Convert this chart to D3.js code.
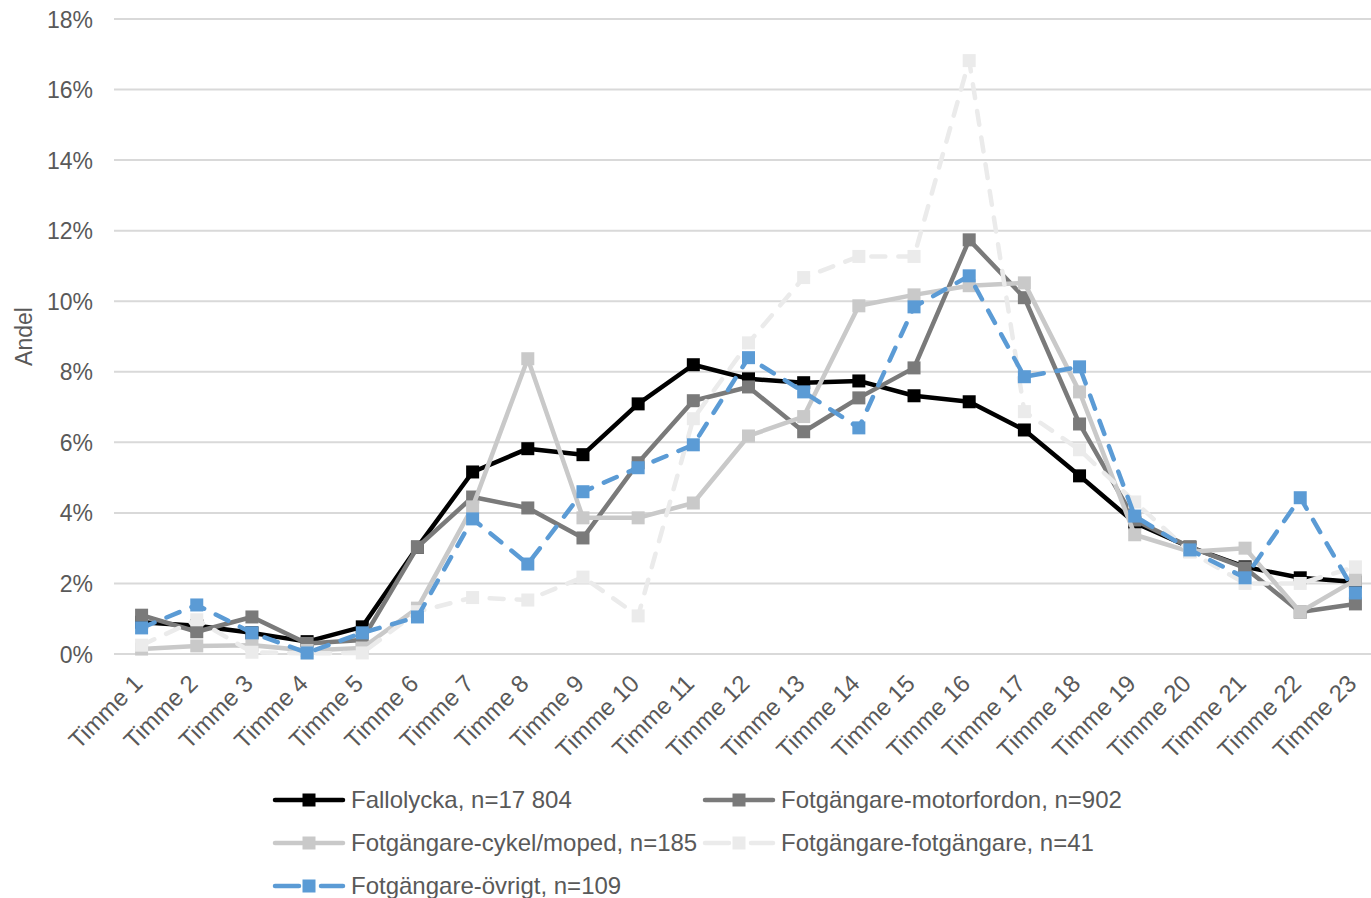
<!DOCTYPE html>
<html>
<head>
<meta charset="utf-8">
<script src="https://cdn.jsdelivr.net/npm/d3@7"></script>
<style>
  body { margin: 0; background: #fff; }
  text { font-family: "Liberation Sans", Arial, sans-serif; fill: #595959; }
</style>
</head>
<body>
<div id="svgRoot"></div>
<script>
const hours = ["Timme 1","Timme 2","Timme 3","Timme 4","Timme 5","Timme 6","Timme 7","Timme 8","Timme 9","Timme 10","Timme 11","Timme 12","Timme 13","Timme 14","Timme 15","Timme 16","Timme 17","Timme 18","Timme 19","Timme 20","Timme 21","Timme 22","Timme 23"];
const yTicks = [0, 2, 4, 6, 8, 10, 12, 14, 16, 18];

const fallolycka   = [0.9, 0.8, 0.6, 0.35, 0.77, 3.03, 5.16, 5.82, 5.65, 7.09, 8.2, 7.8, 7.69, 7.74, 7.32, 7.15, 6.35, 5.05, 3.72, 3.03, 2.47, 2.16, 2.04];
const motorfordon  = [1.1, 0.63, 1.05, 0.3, 0.4, 3.03, 4.45, 4.14, 3.29, 5.42, 7.18, 7.57, 6.3, 7.26, 8.11, 11.74, 10.1, 6.52, 3.8, 3.03, 2.44, 1.19, 1.42];
const cykelMoped   = [0.14, 0.23, 0.25, 0.1, 0.17, 1.3, 4.17, 8.37, 3.86, 3.86, 4.28, 6.18, 6.73, 9.87, 10.18, 10.44, 10.52, 7.43, 3.38, 2.9, 3.0, 1.19, 2.1];
const fotgangare   = [0.25, 0.97, 0.05, 0.02, 0.03, 1.2, 1.6, 1.53, 2.18, 1.08, 6.67, 8.82, 10.67, 11.27, 11.27, 16.82, 6.87, 5.79, 4.31, 2.9, 2.0, 2.0, 2.47];
const ovrigt       = [0.74, 1.39, 0.6, 0.03, 0.6, 1.05, 3.83, 2.55, 4.6, 5.28, 5.93, 8.4, 7.43, 6.41, 9.84, 10.72, 7.86, 8.14, 3.91, 2.95, 2.16, 4.43, 1.73];

const seriesNames = ["Fallolycka, n=17 804", "Fotgängare-motorfordon, n=902", "Fotgängare-cykel/moped, n=185", "Fotgängare-fotgängare, n=41", "Fotgängare-övrigt, n=109"];

const series = [
  { name: seriesNames[0], values: fallolycka,  color: "#000000", dash: null },
  { name: seriesNames[1], values: motorfordon, color: "#7a7a7a", dash: null },
  { name: seriesNames[2], values: cykelMoped,  color: "#c9c9c9", dash: null },
  { name: seriesNames[3], values: fotgangare,  color: "#ebebeb", dash: "14,13" },
  { name: seriesNames[4], values: ovrigt,      color: "#5b9bd5", dash: "14,13" }
];

const W = 1371, H = 898;
const plotLeft = 114, plotRight = 1383, plotTop = 19, plotBottom = 654;

const svg = d3.select("#svgRoot").append("svg")
  .attr("width", W).attr("height", H);

const x = d3.scalePoint().domain(hours).range([plotLeft, plotRight]).padding(0.5);
const y = d3.scaleLinear().domain([0, 18]).range([plotBottom, plotTop]);

// gridlines
svg.append("g")
  .selectAll("line")
  .data(yTicks)
  .enter().append("line")
  .attr("x1", plotLeft).attr("x2", plotRight)
  .attr("y1", d => y(d)).attr("y2", d => y(d))
  .attr("stroke", "#d9d9d9")
  .attr("stroke-width", 2);

// y axis labels
const yAxis = svg.append("g")
  .attr("transform", "translate(" + (plotLeft - 21) + ",0)")
  .call(d3.axisLeft(y).tickValues(yTicks).tickSize(0).tickPadding(0).tickFormat(d => d + "%"));
yAxis.select(".domain").remove();
yAxis.selectAll("text").style("font-size", "23px").attr("fill", "#595959").attr("dy", "0.35em");

// x axis labels
const xAxis = svg.append("g")
  .attr("transform", "translate(0," + plotBottom + ")")
  .call(d3.axisBottom(x).tickSize(0).tickPadding(0));
xAxis.select(".domain").remove();
xAxis.selectAll("text")
  .style("font-size", "24px")
  .attr("fill", "#595959")
  .attr("text-anchor", "end")
  .attr("dy", "0.35em")
  .attr("transform", "translate(-4,25) rotate(-45)");

svg.append("text")
  .text("Andel")
  .attr("text-anchor", "middle")
  .attr("transform", "translate(32," + (y(9)) + ") rotate(-90)")
  .style("font-size", "23px");

const line = d3.line()
  .x((d, i) => x(hours[i]))
  .y(d => y(d));

const ms = 13;

series.forEach(s => {
  const g = svg.append("g");
  g.append("path")
    .attr("d", line(s.values))
    .attr("fill", "none")
    .attr("stroke", s.color)
    .attr("stroke-width", 4.5)
    .attr("stroke-linejoin", "round")
    .attr("stroke-linecap", "round")
    .attr("stroke-dasharray", s.dash);
  g.selectAll("rect")
    .data(s.values)
    .enter().append("rect")
    .attr("x", (d, i) => x(hours[i]) - ms / 2)
    .attr("y", d => y(d) - ms / 2)
    .attr("width", ms).attr("height", ms)
    .attr("fill", s.color);
});

// legend
const legendPos = [[273, 800], [703, 800], [273, 843], [703, 843], [273, 886]];
series.forEach((s, i) => {
  const [lx, ly] = legendPos[i];
  const g = svg.append("g").attr("transform", "translate(" + lx + "," + ly + ")");
  g.append("line")
    .attr("x1", 2).attr("x2", 70).attr("y1", 0).attr("y2", 0)
    .attr("stroke", s.color).attr("stroke-width", 4.5)
    .attr("stroke-linecap", "round")
    .attr("stroke-dasharray", s.dash ? "24,22" : null);
  g.append("rect")
    .attr("x", 36 - ms / 2).attr("y", -ms / 2)
    .attr("width", ms).attr("height", ms)
    .attr("fill", s.color);
  g.append("text")
    .attr("x", 78).attr("y", 0).attr("dy", "0.35em")
    .style("font-size", "24px")
    .text(s.name);
});
</script>
</body>
</html>
